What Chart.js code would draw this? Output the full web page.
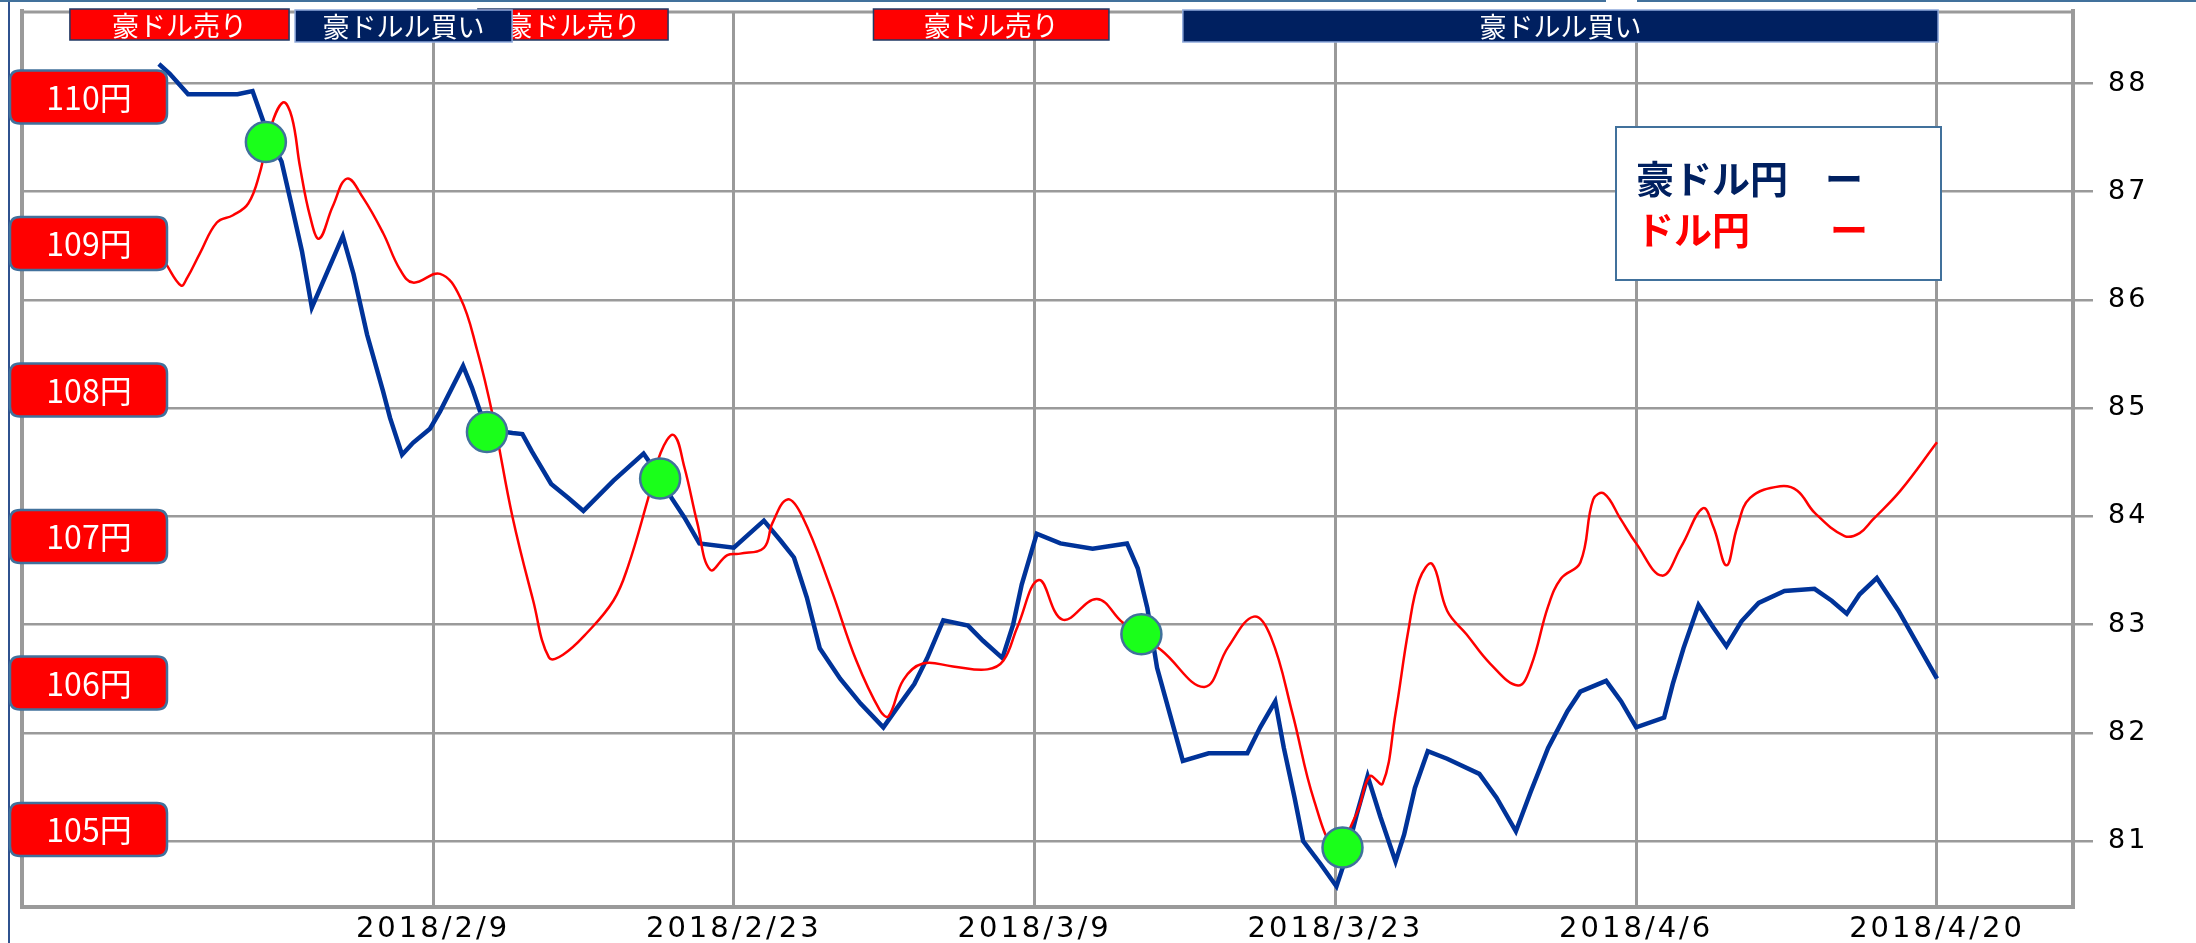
<!DOCTYPE html>
<html>
<head>
<meta charset="utf-8">
<script src="https://cdn.jsdelivr.net/npm/chart.js@4.4.1/dist/chart.umd.min.js"></script>
<style>
  html, body { margin: 0; padding: 0; background: #fff; }
  #wrap { width: 2196px; height: 943px; }
</style>
</head>
<body>
<div id="wrap"><canvas id="chart" width="2196" height="943"></canvas></div>
<script>
// x values are days counted from 2018/2/9
const baseDate = new Date(2018, 1, 9);
const tickDays = [0, 14, 28, 42, 56, 70];

// 豪ドル円 (right axis)
const audDays = [-12.76, -12.25, -11.4, -9.1, -8.4, -7.9, -7.5, -7.05, -6.6, -6.1, -5.64, -5.05, -4.2, -3.7, -3.07, -2.33,
  -2.0, -1.44, -0.93, -0.14, 0.33, 1.4, 1.81, 2.19, 2.6, 3.7, 4.16, 4.6, 5.5, 6.3, 7.0, 8.4, 9.8, 10.6, 11.1, 11.7,
  12.4, 14.0, 15.4, 16.2, 16.8, 17.4, 18.0, 18.95, 19.9, 20.96, 21.6, 22.4, 23.0, 23.75, 24.9, 25.6, 26.5, 27.0, 27.4,
  28.1, 29.2, 30.7, 32.3, 32.8, 33.25, 33.7, 34.3, 34.9, 36.1, 37.9, 38.5, 39.2, 39.6, 40.1, 40.5, 41.3, 42.05, 42.4,
  43.0, 43.5, 44.1, 44.8, 45.2, 45.7, 46.3, 47.2, 48.7, 49.5, 50.4, 51.1, 51.9, 52.8, 53.4, 54.6, 55.3, 56.0, 57.3,
  57.7, 58.2, 58.9, 59.6, 60.2, 60.9, 61.7, 62.9, 64.3, 65.1, 65.8, 66.4, 67.2, 68.2, 70.0];
const audJpy = [88.18, 88.09, 87.9, 87.9, 87.93, 87.65, 87.45, 87.28, 86.89, 86.45, 85.93, 86.2, 86.59, 86.24, 85.68, 85.16,
  84.91, 84.57, 84.68, 84.81, 84.97, 85.39, 85.19, 84.97, 84.8, 84.77, 84.76, 84.6, 84.3, 84.17, 84.05, 84.33, 84.58, 84.35, 84.17, 83.99,
  83.75, 83.71, 83.96, 83.77, 83.62, 83.25, 82.78, 82.5, 82.27, 82.05, 82.23, 82.45, 82.69, 83.04, 82.99, 82.85, 82.69, 83.0, 83.37,
  83.84, 83.75, 83.7, 83.75, 83.52, 83.15, 82.6, 82.17, 81.74, 81.81, 81.81, 82.05, 82.29, 81.86, 81.4, 81.0, 80.79, 80.58, 80.79,
  81.25, 81.6, 81.22, 80.81, 81.06, 81.49, 81.83, 81.76, 81.62, 81.4, 81.09, 81.46, 81.86, 82.2, 82.38, 82.48, 82.29, 82.05, 82.14,
  82.45, 82.78, 83.18, 82.97, 82.8, 83.03, 83.2, 83.31, 83.33, 83.22, 83.1, 83.28, 83.43, 83.13, 82.5];

// ドル円 (left axis)
const usdDays = [-12.48, -11.73, -11.45, -10.85, -10.06, -9.31, -8.6, -8.06, -7.6, -6.98, -6.57, -6.19, -5.72, -5.3, -4.67, -4.0,
  -3.26, -2.33, -1.54, -0.93, 0.33, 1.26, 2.05, 2.8, 3.7, 4.66, 5.4, 6.05, 7.17, 8.4, 9.07, 10.0, 10.6, 11.2, 11.7, 12.3,
  12.9, 13.7, 14.3, 15.4, 15.8, 16.5, 17.2, 18.5, 19.7, 20.8, 21.2, 21.9, 22.8, 24.2, 25.8, 26.55, 27.2, 28.2, 29.3, 30.9,
  32.1, 33.9, 35.9, 37.0, 38.2, 39.0, 40.0, 41.0, 42.0, 43.0, 43.6, 44.2, 44.8, 45.4, 45.9, 46.5, 47.2, 48.1, 49.2, 50.5,
  51.1, 51.9, 52.5, 53.4, 54.0, 54.5, 55.3, 56.0, 57.2, 58.1, 59.1, 59.6, 60.2, 60.7, 61.3, 62.7, 63.5, 64.3, 65.7, 66.4,
  67.0, 68.3, 70.0];
const usdJpy = [108.87, 108.71, 108.76, 108.93, 109.14, 109.19, 109.27, 109.48, 109.77, 109.96, 109.86, 109.52, 109.18, 109.03, 109.25, 109.44,
  109.31, 109.07, 108.82, 108.73, 108.79, 108.63, 108.27, 107.81, 107.13, 106.56, 106.17, 106.19, 106.34, 106.56, 106.79, 107.25, 107.57, 107.69, 107.47, 107.09,
  106.77, 106.87, 106.88, 106.92, 107.09, 107.25, 107.13, 106.65, 106.15, 105.81, 105.77, 106.02, 106.13, 106.11, 106.09, 106.15, 106.38, 106.7, 106.43, 106.57,
  106.41, 106.22, 105.97, 106.24, 106.45, 106.31, 105.79, 105.2, 104.88, 105.11, 105.36, 105.31, 105.79, 106.36, 106.7, 106.81, 106.49, 106.33, 106.13, 105.98,
  106.11, 106.52, 106.71, 106.82, 107.25, 107.29, 107.11, 106.95, 106.73, 106.93, 107.19, 107.06, 106.8, 107.06, 107.26, 107.34, 107.31, 107.16, 107.0, 107.02,
  107.11, 107.31, 107.64];

// green circles where the two lines cross (right axis values)
const crossDays = [-7.78, 2.51, 10.57, 32.97, 42.33];
const crossValues = [87.46, 84.78, 84.35, 82.91, 80.94];

// yen level labels on the left
const yenLevels = [110, 109, 108, 107, 106, 105];

// buy / sell bands along the top
const signalTypes = ['sell', 'buy', 'sell', 'sell', 'buy'];
const signalFrom = [-16.9, -6.42, 2.09, 20.5, 34.9];
const signalTo = [-6.7, 3.68, 10.94, 31.46, 70.05];
const signalText = { sell: '豪ドル売り', buy: '豪ドルル買い' };

const jpFont = '"Noto Sans CJK JP", "Noto Sans", sans-serif';
const gridGray = '#9a9a9a';
const frameBlue = '#41719C';

function dayLabel(d) {
  const dt = new Date(baseDate.getTime() + d * 86400000);
  return dt.getFullYear() + '/' + (dt.getMonth() + 1) + '/' + dt.getDate();
}

function roundRect(ctx, x, y, w, h, r) {
  ctx.beginPath();
  ctx.moveTo(x + r, y);
  ctx.lineTo(x + w - r, y);
  ctx.quadraticCurveTo(x + w, y, x + w, y + r);
  ctx.lineTo(x + w, y + h - r);
  ctx.quadraticCurveTo(x + w, y + h, x + w - r, y + h);
  ctx.lineTo(x + r, y + h);
  ctx.quadraticCurveTo(x, y + h, x, y + h - r);
  ctx.lineTo(x, y + r);
  ctx.quadraticCurveTo(x, y, x + r, y);
  ctx.closePath();
}

const decor = {
  id: 'decor',
  beforeDraw(chart) {
    // axis numbers in the original are widely spaced
    chart.ctx.letterSpacing = '3px';
  },
  afterDraw(chart) {
    const ctx = chart.ctx;
    const area = chart.chartArea;
    const xs = chart.scales.x;
    const yL = chart.scales.yL;
    ctx.save();
    ctx.letterSpacing = '0px';

    // page edge lines
    ctx.strokeStyle = '#2F528F';
    ctx.lineWidth = 2;
    ctx.beginPath();
    ctx.moveTo(9, 0); ctx.lineTo(9, 943);
    ctx.stroke();
    ctx.strokeStyle = frameBlue;
    ctx.beginPath();
    ctx.moveTo(0, 1); ctx.lineTo(1606, 1);
    ctx.moveTo(1637, 1); ctx.lineTo(2196, 1);
    ctx.stroke();

    // top frame of plot
    ctx.strokeStyle = gridGray;
    ctx.lineWidth = 3;
    ctx.beginPath();
    ctx.moveTo(area.left, area.top + 1); ctx.lineTo(area.right, area.top + 1);
    ctx.stroke();

    // signal bands: sells first, buys on top
    ['sell', 'buy'].forEach(kind => {
      signalTypes.forEach((t, i) => {
        if (t !== kind) return;
        const x1 = xs.getPixelForValue(signalFrom[i]);
        const x2 = xs.getPixelForValue(signalTo[i]);
        const y1 = kind === 'sell' ? 9 : 10;
        const h = kind === 'sell' ? 31 : 32;
        ctx.fillStyle = kind === 'sell' ? '#FF0000' : '#002060';
        ctx.fillRect(x1, y1, x2 - x1, h);
        ctx.strokeStyle = kind === 'sell' ? '#1F3864' : '#8EA9DB';
        ctx.lineWidth = 1.5;
        ctx.strokeRect(x1, y1, x2 - x1, h);
        ctx.save();
        ctx.beginPath();
        ctx.rect(x1, y1, x2 - x1, h);
        ctx.clip();
        ctx.fillStyle = '#ffffff';
        ctx.font = '27px ' + jpFont;
        ctx.textAlign = 'center';
        ctx.textBaseline = 'middle';
        ctx.fillText(signalText[kind], (x1 + x2) / 2, y1 + h / 2 + 1);
        ctx.restore();
      });
    });

    // yen level labels
    yenLevels.forEach(v => {
      const cy = yL.getPixelForValue(v);
      roundRect(ctx, 10, cy - 26, 157, 53, 10);
      ctx.fillStyle = '#FF0000';
      ctx.fill();
      ctx.strokeStyle = frameBlue;
      ctx.lineWidth = 2.5;
      ctx.stroke();
      ctx.fillStyle = '#ffffff';
      ctx.font = '32px ' + jpFont;
      ctx.textAlign = 'center';
      ctx.textBaseline = 'middle';
      ctx.fillText(v + '円', 89, cy + 1);
    });

    // legend box
    ctx.fillStyle = '#ffffff';
    ctx.fillRect(1616, 127, 325, 153);
    ctx.strokeStyle = frameBlue;
    ctx.lineWidth = 2;
    ctx.strokeRect(1616, 127, 325, 153);
    ctx.font = 'bold 38px ' + jpFont;
    ctx.textAlign = 'left';
    ctx.textBaseline = 'middle';
    ctx.fillStyle = '#002060';
    ctx.fillText('豪ドル円', 1636, 179);
    ctx.fillText('ー', 1825, 179);
    ctx.fillStyle = '#FF0000';
    ctx.fillText('ドル円', 1636, 230);
    ctx.fillText('ー', 1830, 230);

    ctx.restore();
  }
};

new Chart(document.getElementById('chart'), {
  data: {
    datasets: [
      {
        type: 'scatter',
        label: 'cross',
        data: crossDays.map((d, i) => ({ x: d, y: crossValues[i] })),
        yAxisID: 'yR',
        pointRadius: 20,
        pointBackgroundColor: '#1aff1a',
        pointBorderColor: frameBlue,
        pointBorderWidth: 2.5,
        order: 0
      },
      {
        type: 'line',
        label: 'ドル円',
        data: usdDays.map((d, i) => ({ x: d, y: usdJpy[i] })),
        yAxisID: 'yL',
        borderColor: '#FF0000',
        borderWidth: 2.5,
        pointRadius: 0,
        tension: 0.4,
        fill: false,
        order: 1
      },
      {
        type: 'line',
        label: '豪ドル円',
        data: audDays.map((d, i) => ({ x: d, y: audJpy[i] })),
        yAxisID: 'yR',
        borderColor: '#003399',
        borderWidth: 4.5,
        pointRadius: 0,
        tension: 0,
        fill: false,
        order: 2
      }
    ]
  },
  options: {
    responsive: false,
    devicePixelRatio: 1,
    animation: false,
    layout: { autoPadding: false, padding: { top: 11, left: 0, right: 0, bottom: 0 } },
    plugins: {
      legend: { display: false },
      tooltip: { enabled: false }
    },
    scales: {
      x: {
        type: 'linear',
        position: 'bottom',
        min: -19.13,
        max: 76.33,
        afterBuildTicks: scale => { scale.ticks = tickDays.map(v => ({ value: v })); },
        afterFit: scale => {
          scale.height = 36;
          scale.paddingLeft = 0;
          scale.paddingRight = 0;
        },
        ticks: {
          callback: v => dayLabel(v),
          color: '#000',
          font: { family: '"DejaVu Sans"', size: 29 },
          padding: 5,
          maxRotation: 0,
          autoSkip: false
        },
        grid: { color: gridGray, lineWidth: 3, drawTicks: false },
        border: { color: gridGray, width: 4 }
      },
      yL: {
        position: 'left',
        min: 104.468,
        max: 110.584,
        afterFit: scale => {
          scale.width = 22;
          scale.paddingTop = 0;
          scale.paddingBottom = 0;
        },
        ticks: { display: false },
        grid: { display: false },
        border: { color: gridGray, width: 4 }
      },
      yR: {
        position: 'right',
        min: 80.39,
        max: 88.67,
        afterBuildTicks: scale => {
          const t = [];
          for (let v = 81; v <= 88; v++) t.push({ value: v });
          scale.ticks = t;
        },
        afterFit: scale => {
          scale.width = 123;
          scale.paddingTop = 0;
          scale.paddingBottom = 0;
        },
        ticks: {
          color: '#000',
          font: { family: '"DejaVu Sans"', size: 27 },
          padding: 15
        },
        grid: { color: gridGray, lineWidth: 2.5, tickLength: 20 },
        border: { color: gridGray, width: 4 }
      }
    }
  },
  plugins: [decor]
});
</script>
</body>
</html>
